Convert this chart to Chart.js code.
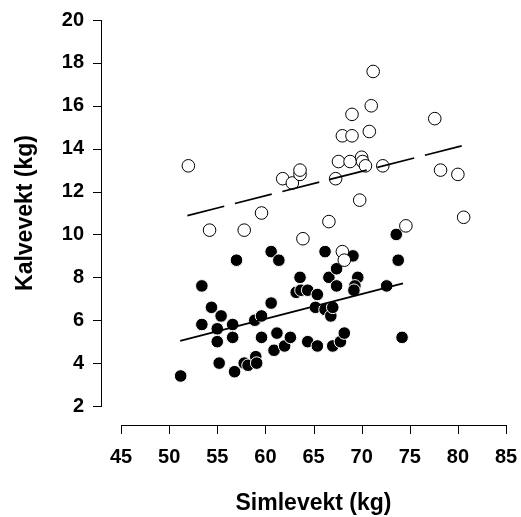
<!DOCTYPE html>
<html>
<head>
<meta charset="utf-8">
<script src="https://cdn.jsdelivr.net/npm/chart.js@4/dist/chart.umd.min.js"></script>
<style>
  html, body { margin: 0; padding: 0; background: #fff; }
  canvas { display: block; }
</style>
</head>
<body>
<canvas id="myChart" width="521" height="517"></canvas>
<script>
// open circles (upper group)
const openX = [52.0, 54.2, 57.8, 59.6, 61.8, 62.8, 63.6, 63.6, 63.9, 66.6, 67.3, 67.6, 68.0, 69.0, 69.0, 68.8, 70.0, 70.1, 70.4, 69.8, 70.8, 71.0, 71.2, 72.2, 74.6, 77.6, 78.2, 80.0, 80.6, 68.0, 68.2];
const openY = [13.2, 10.2, 10.2, 11.0, 12.6, 12.4, 12.8, 13.0, 9.8, 10.6, 12.6, 13.4, 14.6, 14.6, 15.6, 13.4, 13.6, 13.4, 13.2, 11.6, 14.8, 16.0, 17.6, 13.2, 10.4, 15.4, 13.0, 12.8, 10.8, 9.2, 8.8];

// filled circles (lower group)
const filledX = [51.2, 53.4, 53.4, 54.4, 55.4, 55.0, 55.0, 55.2, 56.6, 56.6, 57.0, 56.8, 57.8, 58.2, 59.0, 59.1, 58.9, 59.6, 59.6, 60.6, 61.4, 60.6, 61.2, 60.9, 62.0, 62.6, 63.6, 63.2, 63.7, 64.4, 65.4, 64.4, 65.4, 65.2, 66.2, 66.6, 67.4, 67.4, 66.2, 66.8, 67.0, 67.0, 67.8, 68.2, 69.1, 69.6, 69.3, 69.2, 72.6, 73.6, 73.8, 74.2];
const filledY = [3.4, 7.6, 5.8, 6.6, 6.2, 5.6, 5.0, 4.0, 5.8, 5.2, 8.8, 3.6, 4.0, 3.9, 4.3, 4.0, 6.0, 6.2, 5.2, 9.2, 8.8, 6.8, 5.4, 4.6, 4.8, 5.2, 8.0, 7.3, 7.4, 7.4, 7.2, 5.0, 4.8, 6.6, 9.2, 8.0, 8.4, 7.6, 6.5, 6.2, 6.6, 4.8, 5.0, 5.4, 9.0, 8.0, 7.6, 7.4, 7.6, 10.0, 8.8, 5.2];

// regression lines (end points)
const openLineX = [51.9, 80.6];
const openLineY = [10.88, 14.15];
const filledLineX = [51.15, 74.3];
const filledLineY = [5.04, 7.72];

// axes
const xTicks = [45, 50, 55, 60, 65, 70, 75, 80, 85];
const yTicks = [2, 4, 6, 8, 10, 12, 14, 16, 18, 20];
const xTitle = "Simlevekt (kg)";
const yTitle = "Kalvevekt (kg)";

const toPoints = (xs, ys) => xs.map((x, i) => ({ x: x, y: ys[i] }));

// draws the detached axis lines with outward ticks
const detachedAxes = {
  id: "detachedAxes",
  afterDraw(chart) {
    const ctx = chart.ctx;
    const xs = chart.scales.x, ys = chart.scales.y;
    const axisX = chart.chartArea.left - 20;
    const axisY = chart.chartArea.bottom + 19;
    const tl = 8;
    ctx.save();
    ctx.strokeStyle = "#000";
    ctx.lineWidth = 1;
    ctx.beginPath();
    // y axis
    const yTop = ys.getPixelForValue(yTicks[yTicks.length - 1]);
    const yBot = ys.getPixelForValue(yTicks[0]);
    ctx.moveTo(axisX + 0.5, Math.round(yTop));
    ctx.lineTo(axisX + 0.5, Math.round(yBot) + 1);
    yTicks.forEach(v => {
      const p = Math.round(ys.getPixelForValue(v)) + 0.5;
      ctx.moveTo(axisX - tl, p);
      ctx.lineTo(axisX + 1, p);
    });
    // x axis
    const xL = xs.getPixelForValue(xTicks[0]);
    const xR = xs.getPixelForValue(xTicks[xTicks.length - 1]);
    ctx.moveTo(Math.round(xL), axisY + 0.5);
    ctx.lineTo(Math.round(xR) + 1, axisY + 0.5);
    xTicks.forEach(v => {
      const p = Math.round(xs.getPixelForValue(v)) + 0.5;
      ctx.moveTo(p, axisY);
      ctx.lineTo(p, axisY + tl + 1);
    });
    ctx.stroke();
    ctx.restore();
  }
};

const font = "'Liberation Sans', Arial, sans-serif";

const ctx = document.getElementById("myChart").getContext("2d");
new Chart(ctx, {
  type: "scatter",
  data: {
    datasets: [
      {
        label: "filled",
        data: toPoints(filledX, filledY),
        pointRadius: 6.3,
        pointBackgroundColor: "#000",
        pointBorderColor: "#fff",
        pointBorderWidth: 1,
        order: 3
      },
      {
        label: "open",
        data: toPoints(openX, openY),
        pointRadius: 6.3,
        pointBackgroundColor: "#fff",
        pointBorderColor: "#000",
        pointBorderWidth: 1,
        order: 2
      },
      {
        label: "open fit",
        type: "line",
        data: toPoints(openLineX, openLineY),
        borderColor: "#000",
        borderWidth: 1.7,
        borderDash: [38, 11],
        pointRadius: 0,
        fill: false,
        order: 1
      },
      {
        label: "filled fit",
        type: "line",
        data: toPoints(filledLineX, filledLineY),
        borderColor: "#000",
        borderWidth: 1.7,
        pointRadius: 0,
        fill: false,
        order: 1
      }
    ]
  },
  options: {
    responsive: false,
    animation: false,
    clip: false,
    layout: { padding: { left: 0, right: 15, top: 20, bottom: 0 } },
    plugins: {
      legend: { display: false },
      tooltip: { enabled: false }
    },
    scales: {
      x: {
        type: "linear",
        min: 45,
        max: 85,
        afterBuildTicks: s => { s.ticks = xTicks.map(v => ({ value: v })); },
        afterFit: s => { s.height = 111; s.paddingLeft = 0; s.paddingRight = 0; },
        grid: { display: false, drawTicks: false },
        border: { display: false },
        ticks: {
          color: "#000",
          padding: 39,
          maxRotation: 0,
          font: { family: font, size: 20, weight: "bold" }
        },
        title: {
          display: true,
          text: xTitle,
          color: "#000",
          padding: { top: 0, bottom: 0 },
          font: { family: font, size: 23, weight: "bold" }
        }
      },
      y: {
        type: "linear",
        min: 2,
        max: 20,
        afterBuildTicks: s => { s.ticks = yTicks.map(v => ({ value: v })); },
        afterFit: s => { s.width = 121; s.paddingTop = 0; s.paddingBottom = 0; },
        grid: { display: false, drawTicks: false },
        border: { display: false },
        ticks: {
          color: "#000",
          padding: 37,
          font: { family: font, size: 20, weight: "bold" }
        },
        title: {
          display: true,
          text: yTitle,
          color: "#000",
          padding: { top: 12, bottom: 0 },
          font: { family: font, size: 23, weight: "bold" }
        }
      }
    }
  },
  plugins: [detachedAxes]
});
</script>
</body>
</html>
